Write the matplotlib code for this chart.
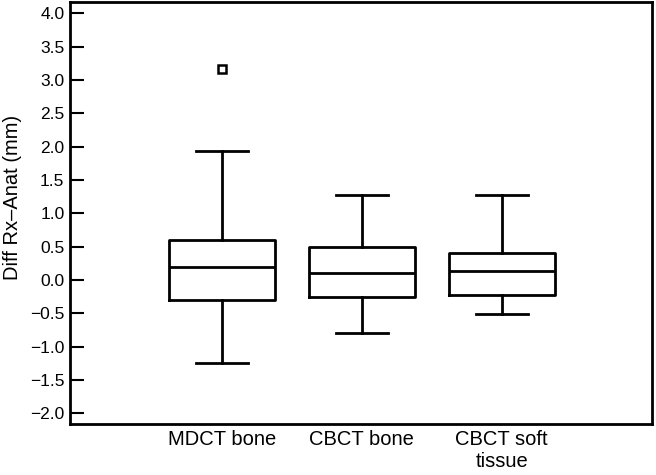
import matplotlib
matplotlib.use("Agg")
import matplotlib.pyplot as plt

# values
groups = ["MDCT bone", "CBCT bone", "CBCT soft\ntissue"]
medians = [0.20, 0.10, 0.13]
q1 = [-0.30, -0.26, -0.22]
q3 = [0.60, 0.50, 0.41]
whisker_low = [-1.24, -0.79, -0.51]
whisker_high = [1.94, 1.27, 1.27]
outliers = [[3.17], [], []]

plt.rcParams['font.family'] = ['Liberation Sans', 'DejaVu Sans']

stats = []
for i in range(len(groups)):
    stats.append({
        "med": medians[i], "q1": q1[i], "q3": q3[i],
        "whislo": whisker_low[i], "whishi": whisker_high[i],
        "fliers": outliers[i], "label": groups[i],
    })

fig = plt.figure(figsize=(6.56, 4.75), dpi=100)
ax = fig.add_axes([70 / 656, 1 - 424 / 475, 582 / 656, 422 / 475])

lw = 2.0
ax.bxp(stats, positions=[1, 2, 3], widths=0.757, showfliers=True,
       boxprops=dict(color="black", linewidth=lw),
       medianprops=dict(color="black", linewidth=lw),
       whiskerprops=dict(color="black", linewidth=lw),
       capprops=dict(color="black", linewidth=lw),
       capwidths=0.37,
       flierprops=dict(marker="s", markersize=6, markerfacecolor="white",
                       markeredgecolor="black", markeredgewidth=1.8))

ax.set_xlim(-0.084, 4.074)
ax.set_ylim(-2.16, 4.17)
ax.set_yticks([-2.0, -1.5, -1.0, -0.5, 0.0, 0.5, 1.0, 1.5, 2.0, 2.5, 3.0, 3.5, 4.0])
ax.set_yticklabels([f"{v:.1f}".replace("-", "\u2212") for v in ax.get_yticks()])
ax.tick_params(axis="y", direction="in", length=10, width=1.5, labelsize=12.5, pad=4)
ax.tick_params(axis="x", length=0, labelsize=14.5, pad=4.5)
ax.set_ylabel("Diff Rx\u2013Anat (mm)", fontsize=14.5)
ax.yaxis.set_label_coords(-0.083, 0.537)

for s in ax.spines.values():
    s.set_linewidth(2.0)

fig.savefig("out.png", dpi=100)
